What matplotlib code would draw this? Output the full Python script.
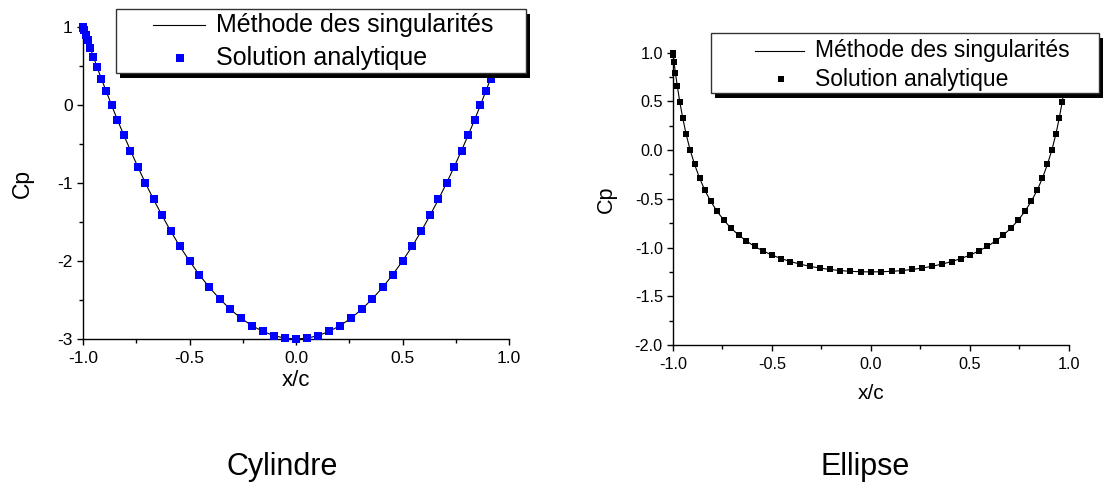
import matplotlib
matplotlib.use("Agg")
import matplotlib.pyplot as plt
from matplotlib.patches import Rectangle
from matplotlib.lines import Line2D
from matplotlib.ticker import MultipleLocator, FixedLocator, FixedFormatter

plt.rcParams['font.family'] = ['Liberation Sans', 'DejaVu Sans']

# Chordwise stations x/c (same stations for both bodies)
x_c = [-1.000, -0.999, -0.995, -0.988, -0.978, -0.966, -0.951, -0.934, -0.914, -0.891,
       -0.866, -0.839, -0.809, -0.777, -0.743, -0.707, -0.669, -0.629, -0.588, -0.545,
       -0.500, -0.454, -0.407, -0.358, -0.309, -0.259, -0.208, -0.156, -0.105, -0.052,
       0.000, 0.052, 0.105, 0.156, 0.208, 0.259, 0.309, 0.358, 0.407, 0.454,
       0.500, 0.545, 0.588, 0.629, 0.669, 0.707, 0.743, 0.777, 0.809, 0.839,
       0.866, 0.891, 0.914, 0.934, 0.951, 0.966, 0.978, 0.988, 0.995, 0.999, 1.000]

# Pressure coefficient around the cylinder
cp_cyl = [1.000, 0.989, 0.956, 0.902, 0.827, 0.732, 0.618, 0.486, 0.338, 0.176,
          0.000, -0.187, -0.382, -0.584, -0.791, -1.000, -1.209, -1.416, -1.618, -1.813,
          -2.000, -2.176, -2.338, -2.486, -2.618, -2.732, -2.827, -2.902, -2.956, -2.989,
          -3.000, -2.989, -2.956, -2.902, -2.827, -2.732, -2.618, -2.486, -2.338, -2.176,
          -2.000, -1.813, -1.618, -1.416, -1.209, -1.000, -0.791, -0.584, -0.382, -0.187,
          0.000, 0.176, 0.338, 0.486, 0.618, 0.732, 0.827, 0.902, 0.956, 0.989, 1.000]

# Pressure coefficient around the ellipse
cp_ell = [1.000, 0.976, 0.905, 0.795, 0.656, 0.498, 0.332, 0.166, 0.005, -0.146,
          -0.286, -0.413, -0.527, -0.629, -0.720, -0.800, -0.871, -0.933, -0.988, -1.035,
          -1.077, -1.113, -1.144, -1.170, -1.192, -1.210, -1.225, -1.236, -1.244, -1.248,
          -1.250, -1.248, -1.244, -1.236, -1.225, -1.210, -1.192, -1.170, -1.144, -1.113,
          -1.077, -1.035, -0.988, -0.933, -0.871, -0.800, -0.720, -0.629, -0.527, -0.413,
          -0.286, -0.146, 0.005, 0.166, 0.332, 0.498, 0.656, 0.795, 0.905, 0.976, 1.000]

x_ticks = [-1.0, -0.5, 0.0, 0.5, 1.0]
x_tick_labels = ["-1.0", "-0.5", "0.0", "0.5", "1.0"]
cyl_y_ticks = [-3, -2, -1, 0, 1]
cyl_y_labels = ["-3", "-2", "-1", "0", "1"]
ell_y_ticks = [-2.0, -1.5, -1.0, -0.5, 0.0, 0.5, 1.0]
ell_y_labels = ["-2.0", "-1.5", "-1.0", "-0.5", "0.0", "0.5", "1.0"]

label_method = "Méthode des singularités"
label_exact = "Solution analytique"

W, H = 1105, 492
fig = plt.figure(figsize=(W / 100, H / 100), dpi=100)


def fbox(l, t, r, b):
    return [l / W, 1 - b / H, (r - l) / W, (b - t) / H]


def fx(x):
    return x / W


def fy(y):
    return 1 - y / H


def style_axes(ax, yticks, ylabels, ymin, ymax, yminor, fs):
    for s in ("top", "right"):
        ax.spines[s].set_visible(False)
    for s in ("left", "bottom"):
        ax.spines[s].set_linewidth(1.0)
        ax.spines[s].set_color("black")
    ax.set_xlim(-1.0, 1.0)
    ax.set_ylim(ymin, ymax)
    ax.xaxis.set_major_locator(FixedLocator(x_ticks))
    ax.xaxis.set_major_formatter(FixedFormatter(x_tick_labels))
    ax.xaxis.set_minor_locator(MultipleLocator(0.25))
    ax.yaxis.set_major_locator(FixedLocator(yticks))
    ax.yaxis.set_major_formatter(FixedFormatter(ylabels))
    ax.yaxis.set_minor_locator(MultipleLocator(yminor))
    ax.tick_params(which="major", direction="out", length=4.3, width=1.0,
                   labelsize=fs, pad=3)
    ax.tick_params(which="minor", direction="out", length=2.9, width=1.0)
    ax.tick_params(axis="x", which="major", pad=4)


def draw_key(l, t, r, b, line_x0, line_x1, y1, mx, y2, tx, fs, mcolor, ms):
    shadow = Rectangle((fx(l + 4), fy(b + 5)), (r - l) / W, (b - t) / H,
                       transform=fig.transFigure, facecolor="black",
                       edgecolor="none", zorder=10)
    box = Rectangle((fx(l), fy(b)), (r - l) / W, (b - t) / H,
                    transform=fig.transFigure, facecolor="white",
                    edgecolor="#333333", linewidth=1.0, zorder=11)
    fig.add_artist(shadow)
    fig.add_artist(box)
    fig.add_artist(Line2D([fx(line_x0), fx(line_x1)], [fy(y1), fy(y1)],
                          transform=fig.transFigure, color="black",
                          linewidth=0.8, zorder=12))
    fig.add_artist(Line2D([fx(mx)], [fy(y2)], transform=fig.transFigure,
                          marker="s", markersize=ms, markeredgewidth=0,
                          color=mcolor, linestyle="none", zorder=12))
    fig.text(fx(tx), fy(y1), label_method, fontsize=fs, va="center",
             ha="left", zorder=13)
    fig.text(fx(tx), fy(y2), label_exact, fontsize=fs, va="center",
             ha="left", zorder=13)


# Cylinder
ax1 = fig.add_axes(fbox(83, 27, 509, 339))
ax1.plot(x_c, cp_cyl, color="black", linewidth=0.8, zorder=2, clip_on=False)
ax1.plot(x_c, cp_cyl, linestyle="none", marker="s", markersize=5.1,
         markeredgewidth=0, color="#0000ff", zorder=3, clip_on=False)
style_axes(ax1, cyl_y_ticks, cyl_y_labels, -3, 1, 0.5, 12.5)
ax1.set_xlabel("x/c", fontsize=16, labelpad=3.5)
ax1.set_ylabel("Cp", fontsize=16.5, labelpad=17)

# Ellipse
ax2 = fig.add_axes(fbox(673, 52.7, 1069, 345))
ax2.plot(x_c, cp_ell, color="black", linewidth=0.8, zorder=2, clip_on=False)
ax2.plot(x_c, cp_ell, linestyle="none", marker="s", markersize=4.8,
         markeredgewidth=0, color="black", zorder=3, clip_on=False)
style_axes(ax2, ell_y_ticks, ell_y_labels, -2.0, 1.0, 0.25, 11.7)
ax2.set_xlabel("x/c", fontsize=15, labelpad=9)
ax2.set_ylabel("Cp", fontsize=15.5, labelpad=13)

draw_key(116, 9, 526, 73, 153, 205, 25, 180, 58, 216, 18, "#0000ff", 5.1)
draw_key(710.5, 33, 1099, 93, 755, 804, 50.7, 781, 79, 815, 16.5, "black", 4.8)

fig.text(fx(282), fy(467), "Cylindre", fontsize=22, ha="center", va="center")
fig.text(fx(865), fy(467), "Ellipse", fontsize=22, ha="center", va="center")

fig.savefig("out.png", dpi=100)
